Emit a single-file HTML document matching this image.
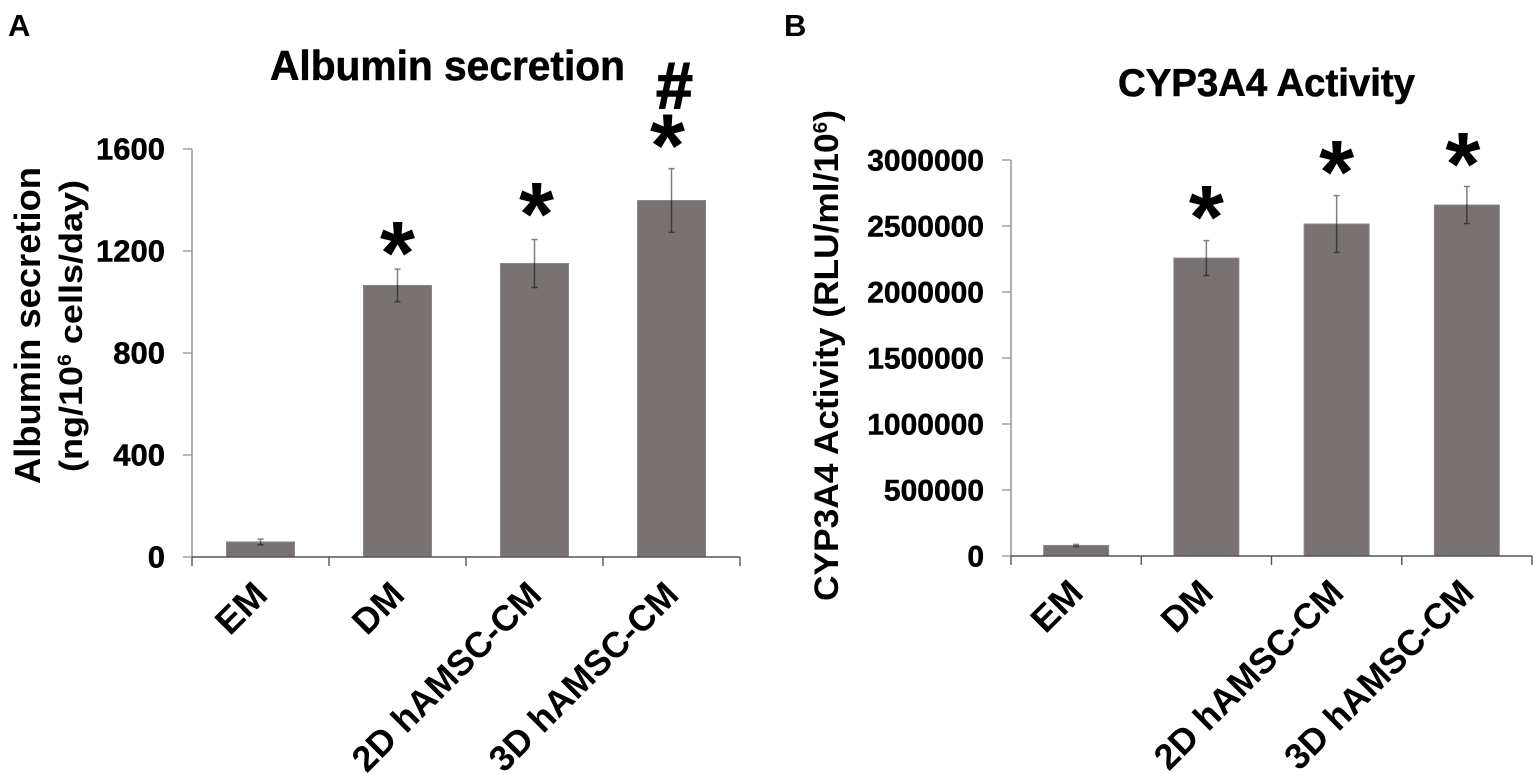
<!DOCTYPE html>
<html>
<head>
<meta charset="utf-8">
<title>Albumin secretion and CYP3A4 activity</title>
<style>
html,body{margin:0;padding:0;background:#fff;}
svg{display:block;}
text{font-family:"Liberation Sans",sans-serif;font-weight:bold;fill:#000;}
</style>
</head>
<body>
<svg id="figure" width="1535" height="774" viewBox="0 0 1535 774" xmlns="http://www.w3.org/2000/svg">
  <text x="8" y="36" font-size="31">A</text>
  <text x="784" y="36" font-size="31">B</text>
  <text x="270" y="80" font-size="42" stroke="#000" stroke-width="0.6" textLength="355" lengthAdjust="spacingAndGlyphs">Albumin secretion</text>
  <text x="1118" y="96" font-size="39" stroke="#000" stroke-width="0.6" textLength="297" lengthAdjust="spacingAndGlyphs">CYP3A4 Activity</text>
  <text transform="translate(40,484) rotate(-90)" font-size="36" textLength="317" lengthAdjust="spacingAndGlyphs">Albumin secretion</text>
  <text transform="translate(82,472) rotate(-90)" font-size="32" textLength="292" lengthAdjust="spacingAndGlyphs">(ng/10<tspan font-size="19" dy="-11">6</tspan><tspan dy="11"> cells/day)</tspan></text>
  <text transform="translate(838,601) rotate(-90)" font-size="34" textLength="491" lengthAdjust="spacingAndGlyphs">CYP3A4 Activity (RLU/ml/10<tspan font-size="20" dy="-11">6</tspan><tspan dy="11">)</tspan></text>
  <g id="panel-a"></g>
  <g id="panel-b"></g>
</svg>
<script>
const categories = ["EM", "DM", "2D hAMSC-CM", "3D hAMSC-CM"];

const albuminValues = [59, 1065, 1151, 1398];
const albuminErrors = [11, 64, 94, 125];
const albuminTicks = [0, 400, 800, 1200, 1600];
const albuminStarLevels = [null, 1240, 1393, 1660];
const albuminHashLevels = [null, null, null, 1838];

const cypValues = [80000, 2257000, 2515000, 2659000];
const cypErrors = [8000, 132000, 215000, 140000];
const cypTicks = [0, 500000, 1000000, 1500000, 2000000, 2500000, 3000000];
const cypStarLevels = [null, 2660000, 3000000, 3060000];
const cypHashLevels = [null, null, null, null];

const NS = "http://www.w3.org/2000/svg";
function mk(tag, attrs, parent, txt) {
  const el = document.createElementNS(NS, tag);
  for (const k in attrs) el.setAttribute(k, attrs[k]);
  if (txt !== undefined) el.textContent = txt;
  parent.appendChild(el);
  return el;
}

function drawChart(cfg) {
  const root = document.getElementById(cfg.id);
  const yMax = cfg.ticks[cfg.ticks.length - 1];
  const yScale = v => cfg.y0 - (v / yMax) * (cfg.y0 - cfg.yTop);
  const step = (cfg.xEnd - cfg.x0) / cfg.categories.length;
  const xCenter = i => cfg.x0 + step * (i + 0.5);

  cfg.values.forEach((v, i) => {
    const cx = xCenter(i);
    const bar = mk("rect", {x: cx - cfg.barW / 2, y: yScale(v), width: cfg.barW, height: cfg.y0 - yScale(v), fill: "#787272", stroke: "#8c8787", "stroke-width": 1}, root);
    
    

    const hi = yScale(v + cfg.errors[i]);
    const lo = yScale(v - cfg.errors[i]);
    const err = mk("path", {d: "M" + (cx - 3) + " " + hi + "H" + (cx + 3) + "M" + cx + " " + hi + "V" + lo + "M" + (cx - 3) + " " + lo + "H" + (cx + 3), fill: "none", stroke: "rgba(0,0,0,.5)", "stroke-width": 1.5}, root);
    
    

    if (cfg.stars[i] !== null) {
      const star = mk("text", {x: cx + cfg.markOffset[i], y: yScale(cfg.stars[i]) + 43, "font-size": 90, "text-anchor": "middle"}, root, "*");
      
      
    }
    if (cfg.hashes[i] !== null) {
      const hash = mk("text", {x: cx + 3, y: yScale(cfg.hashes[i]) + 20, "font-size": 66, "text-anchor": "middle", stroke: "#000", "stroke-width": 1.5}, root, "#");
      
      
    }
  });

  const yAxis = mk("line", {x1: cfg.x0, x2: cfg.x0, y1: cfg.yTop, y2: cfg.y0, stroke: "#999", "stroke-width": 1.6}, root);
  
  

  const xAxis = mk("line", {x1: cfg.x0, x2: cfg.xEnd, y1: cfg.y0, y2: cfg.y0, stroke: "#555", "stroke-width": 1.6}, root);
  
  

  cfg.ticks.forEach(t => {
    const y = yScale(t);
    const tick = mk("line", {x1: cfg.x0 - 9, x2: cfg.x0, y1: y, y2: y, stroke: "#999", "stroke-width": 1.4}, root);
    
    

    const lab = mk("text", {x: cfg.x0 - 27, y: y + 10.5, "font-size": cfg.tickFont, "text-anchor": "end", stroke: "#000", "stroke-width": 0.5}, root, String(t));
    
    
  });

  cfg.categories.forEach((c, i) => {
    const tx = cfg.x0 + step * i;
    const tick = mk("line", {x1: tx, x2: tx, y1: cfg.y0, y2: cfg.y0 + 9, stroke: "#555", "stroke-width": 1.4}, root);
    
    

    const lx = xCenter(i) + 9;
    const long = c.length > 4;
    const attrs = {transform: "translate(" + lx + "," + cfg.labelY + ") rotate(-45)", "font-size": 36, "text-anchor": "end", textLength: long ? 250 : 56, lengthAdjust: "spacingAndGlyphs"};
    const lab = mk("text", attrs, root, c);
    
    
  });

  const endTick = mk("line", {x1: cfg.xEnd, x2: cfg.xEnd, y1: cfg.y0, y2: cfg.y0 + 9, stroke: "#555", "stroke-width": 1.4}, root);
  
  
}

drawChart({id: "panel-a", categories: categories, values: albuminValues, errors: albuminErrors, ticks: albuminTicks,
  stars: albuminStarLevels, hashes: albuminHashLevels, markOffset: [0, 0, 2, -4],
  x0: 192, xEnd: 740, y0: 557, yTop: 149, barW: 68, tickFont: 31, labelY: 597});
drawChart({id: "panel-b", categories: categories, values: cypValues, errors: cypErrors, ticks: cypTicks,
  stars: cypStarLevels, hashes: cypHashLevels, markOffset: [0, 0, 0, -4],
  x0: 1011, xEnd: 1532, y0: 556, yTop: 160, barW: 65, tickFont: 30, labelY: 595});
</script>
</body>
</html>
